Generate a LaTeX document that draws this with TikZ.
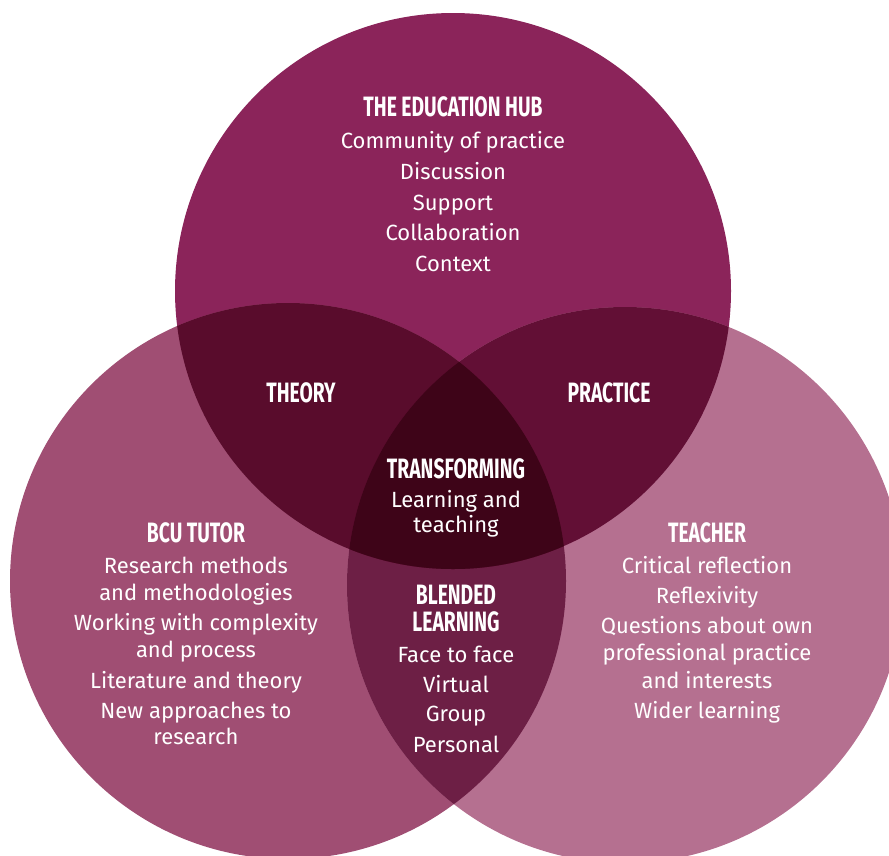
\documentclass[tikz,border=0pt]{standalone}
\usepackage{fontspec}
\setmainfont{Fira Sans}
\newfontfamily\headfont[FakeStretch=0.69]{Fira Sans}

\definecolor{hubcol}{HTML}{8B245A}
\definecolor{tutorcol}{HTML}{A04E73}
\definecolor{teachcol}{HTML}{B57090}
\definecolor{theorycol}{HTML}{590C2C}
\definecolor{practcol}{HTML}{620F35}
\definecolor{blendcol}{HTML}{6D1F45}
\definecolor{corecol}{HTML}{3E0418}

\tikzset{
  head/.style={font=\headfont\bfseries\fontsize{28}{28}\selectfont, text=white, inner sep=0pt, anchor=base},
  body/.style={font=\fontsize{22}{27}\selectfont, text=white, inner sep=0pt, anchor=base}
}

\begin{document}
\begin{tikzpicture}[x=1pt, y=-1pt]
  \useasboundingbox (0,0) rectangle (889,855);
  \clip (0,0) rectangle (889,855);
  \coordinate (hubc) at (453,291);
  \coordinate (tutorc) at (288,581);
  \coordinate (teachc) at (625,585);

  % the three circles
  \fill[hubcol] (hubc) circle[radius=278pt];
  \fill[tutorcol] (tutorc) circle[radius=278pt];
  \fill[teachcol] (teachc) circle[radius=278pt];
  \begin{scope}
    \clip (tutorc) circle[radius=278pt];
    \fill[blendcol] (teachc) circle[radius=278pt];
  \end{scope}
  \begin{scope}
    \clip (hubc) circle[radius=278pt];
    \fill[theorycol] (tutorc) circle[radius=278pt];
    \fill[practcol] (teachc) circle[radius=278pt];
    \clip (tutorc) circle[radius=278pt];
    \fill[corecol] (teachc) circle[radius=278pt];
  \end{scope}

  % headings
  \node[head] (hub) at (453,116) {THE EDUCATION HUB};
  \node[head] (theory) at (301,402) {THEORY};
  \node[head] (practice) at (609,402) {PRACTICE};
  \node[head] (transform) at (456,478) {TRANSFORMING};
  \node[head] (tutor) at (196,542) {BCU TUTOR};
  \node[head] (teacher) at (707,542) {TEACHER};
  \node[head] (blended) at (456,604) {BLENDED};
  \node[head] (blended-2) at (456,631) {LEARNING};

  % lists
  \foreach \txt/\y [count=\i] in {Community of practice/148, Discussion/179,
      Support/210, Collaboration/240, Context/271}
    \node[body] (hub-\i) at (453,\y) {\txt};
  \foreach \txt/\y [count=\i] in {Learning and/507, teaching/532}
    \node[body] (transform-\i) at (456,\y) {\txt};
  \foreach \txt/\y [count=\i] in {Research methods/573, and methodologies/600,
      Working with complexity/630, and process/657, Literature and theory/688,
      New approaches to/718, research/744}
    \node[body] (tutor-\i) at (196,\y) {\txt};
  \foreach \txt/\y [count=\i] in {Critical reflection/573, Reflexivity/603,
      Questions about own/633, professional practice/660, and interests/688,
      Wider learning/718}
    \node[body] (teacher-\i) at (707,\y) {\txt};
  \foreach \txt/\y [count=\i] in {Face to face/662, Virtual/692, Group/721,
      Personal/752}
    \node[body] (blended-\i) at (456,\y) {\txt};
\end{tikzpicture}
\end{document}
